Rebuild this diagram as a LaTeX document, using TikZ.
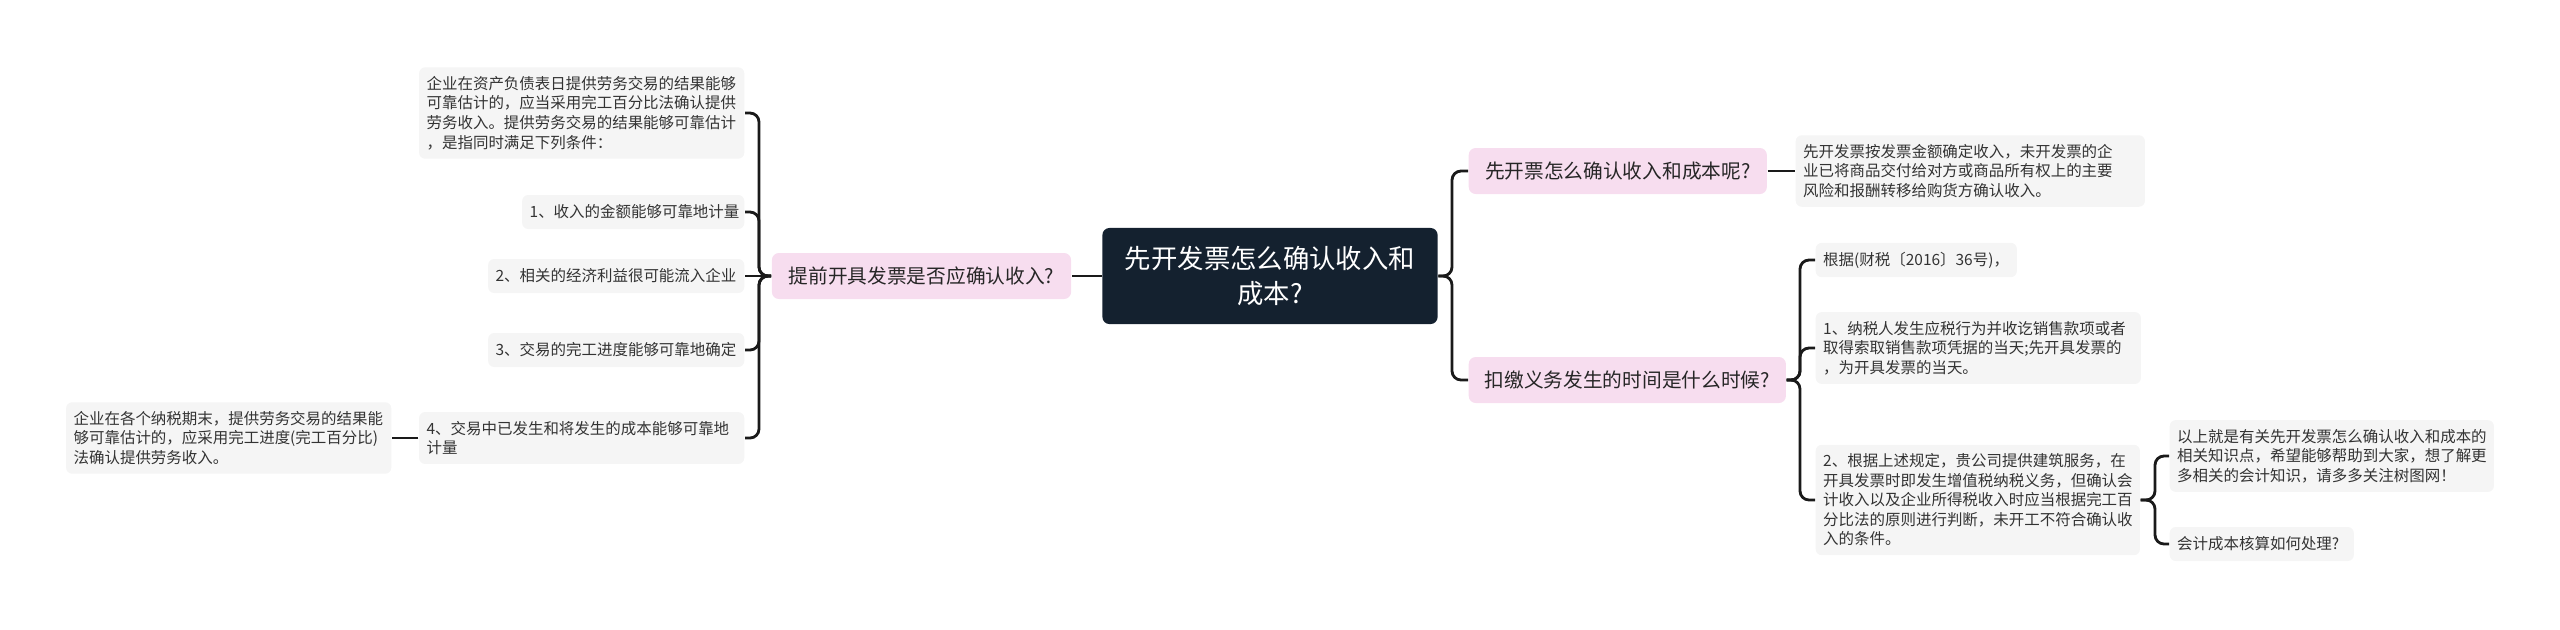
\documentclass[tikz,border=0pt]{standalone}
\usepackage{fontspec}
\setmainfont{Noto Sans CJK SC}
\definecolor{rootnavy}{HTML}{14212F}
\definecolor{topicpink}{HTML}{F7DDEF}
\definecolor{leafgray}{HTML}{F5F5F5}
\definecolor{linkdark}{HTML}{1A1A1A}
\newcommand{\leaffont}{\fontsize{4.4pt}{5.55pt}\selectfont}
\newcommand{\topicfont}{\fontsize{5.6pt}{7pt}\selectfont}
\newcommand{\rootfont}{\fontsize{7.5pt}{10pt}\selectfont}
\tikzset{
  rootbox/.style={fill=rootnavy, text=white, rounded corners=0.07cm, font=\rootfont,
                  align=center, minimum width=3.35cm, minimum height=0.96cm, inner sep=0pt},
  topicbox/.style={fill=topicpink, text=black!85, rounded corners=0.07cm, font=\topicfont,
                   minimum height=0.46cm, inner xsep=0.1cm, inner ysep=0pt},
  leafbox/.style={fill=leafgray, text=black!80, rounded corners=0.06cm, font=\leaffont,
                  align=left, inner xsep=0.075cm, inner ysep=0.09cm, minimum height=0.34cm},
  link/.style={draw=linkdark, line width=0.8pt, rounded corners=0.09cm},
}

\begin{document}
\begin{tikzpicture}[x=0.01cm, y=-0.01cm]
    \useasboundingbox (0,0) rectangle (2560,629);
    \node[rootbox] (root) at (1270,276) {先开发票怎么确认收入和\\成本?};
    \node[topicbox, minimum width=2.99cm] (lbranch) at (921.5,276) {提前开具发票是否应确认收入?};
    \node[topicbox, minimum width=2.98cm, anchor=west] (rbranchA) at (1468,171) {先开票怎么确认收入和成本呢?};
    \node[topicbox, minimum width=3.17cm, anchor=west] (rbranchB) at (1468,380) {扣缴义务发生的时间是什么时候?};

    \node[leafbox, text width=3.10cm, anchor=east] (ll0) at (745,113) {企业在资产负债表日提供劳务交易的结果能够\\可靠估计的，应当采用完工百分比法确认提供\\劳务收入。提供劳务交易的结果能够可靠估计\\，是指同时满足下列条件：};
    \node[leafbox, text width=2.07cm, anchor=east] (ll1) at (745,212) {1、收入的金额能够可靠地计量};
    \node[leafbox, text width=2.41cm, anchor=east] (ll2) at (745,276) {2、相关的经济利益很可能流入企业};
    \node[leafbox, text width=2.41cm, anchor=east] (ll3) at (745,350) {3、交易的完工进度能够可靠地确定};
    \node[leafbox, text width=3.10cm, anchor=east] (ll4) at (745,438) {4、交易中已发生和将发生的成本能够可靠地\\计量};
    \node[leafbox, text width=3.10cm, anchor=east] (ll4c) at (392,438) {企业在各个纳税期末，提供劳务交易的结果能\\够可靠估计的，应采用完工进度(完工百分比)\\法确认提供劳务收入。};

    \node[leafbox, text width=3.34cm, anchor=west] (ra0) at (1795,171) {先开发票按发票金额确定收入，未开发票的企\\业已将商品交付给对方或商品所有权上的主要\\风险和报酬转移给购货方确认收入。};
    \node[leafbox, text width=1.86cm, anchor=west] (rb0) at (1815,260) {根据(财税〔2016〕36号)，};
    \node[leafbox, text width=3.10cm, anchor=west] (rb1) at (1815,348) {1、纳税人发生应税行为并收讫销售款项或者\\取得索取销售款项凭据的当天;先开具发票的\\，为开具发票的当天。};
    \node[leafbox, text width=3.09cm, anchor=west] (rb2) at (1815,500) {2、根据上述规定，贵公司提供建筑服务，在\\开具发票时即发生增值税纳税义务，但确认会\\计收入以及企业所得税收入时应当根据完工百\\分比法的原则进行判断，未开工不符合确认收\\入的条件。};
    \node[leafbox, text width=3.09cm, anchor=west] (rc0) at (2169,456) {以上就是有关先开发票怎么确认收入和成本的\\相关知识点，希望能够帮助到大家，想了解更\\多相关的会计知识，请多多关注树图网！};
    \node[leafbox, text width=1.69cm, anchor=west] (rc1) at (2169,544) {会计成本核算如何处理?};

    \coordinate (lfork) at (759,276);
    \coordinate (rfork) at (1452,276);
    \coordinate (bfork) at (1800,380);
    \coordinate (cfork) at (2155,500);

    \draw[link] (root.west) -- (lbranch.east);
    \foreach \leaf in {ll0,ll1,ll3,ll4}
      \draw[link] (lbranch.west) -- (lfork) |- (\leaf.east);
    \draw[link] (lbranch.west) -- (ll2.east);
    \draw[link] (ll4.west) -- (ll4c.east);
    \foreach \topic in {rbranchA,rbranchB}
      \draw[link] (root.east) -- (rfork) |- (\topic.west);
    \draw[link] (rbranchA.east) -- (ra0.west);
    \foreach \leaf in {rb0,rb1,rb2}
      \draw[link] (rbranchB.east) -- (bfork) |- (\leaf.west);
    \foreach \leaf in {rc0,rc1}
      \draw[link] (rb2.east) -- (cfork) |- (\leaf.west);
\end{tikzpicture}
\end{document}
